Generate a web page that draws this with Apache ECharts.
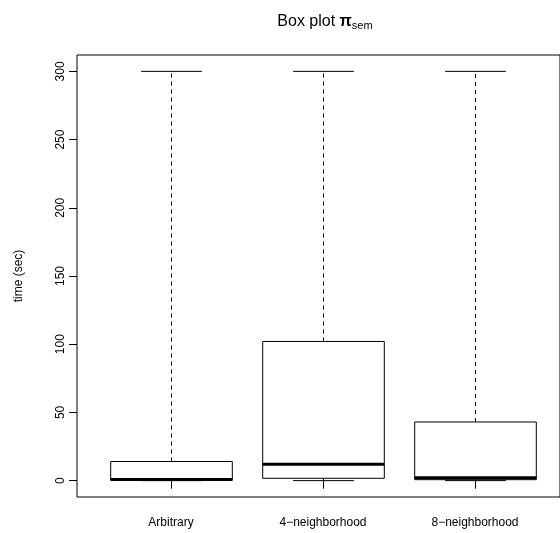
<!DOCTYPE html>
<html>
<head>
<meta charset="utf-8">
<script src="https://cdn.jsdelivr.net/npm/echarts@6/dist/echarts.min.js"></script>
<style>
  html, body { margin: 0; padding: 0; background: #fff; }
  #chart { width: 560px; height: 533px; }
</style>
</head>
<body>
<div id="chart"></div>
<script>
// boxplot stats per group
const categories = ['Arbitrary', '4\u2212neighborhood', '8\u2212neighborhood'];
const whiskerLow = [0, 0, 0];
const q1 = [0.3, 1.7, 0.7];
const median = [0.8, 12, 2.2];
const q3 = [14, 102, 43];
const whiskerHigh = [300, 300, 300];
const yTicks = [0, 50, 100, 150, 200, 250, 300];

const FONT = 'Liberation Sans, Arial, sans-serif';
const yMin = -12;
const yMax = 312;

const chart = echarts.init(document.getElementById('chart'), null, { renderer: 'canvas' });

const seriesData = categories.map((c, i) => [i, whiskerLow[i], q1[i], median[i], q3[i], whiskerHigh[i]]);

// R-style box: dashed whiskers, half-width staples, thick median
function renderBox(params, api) {
  const x = api.value(0);
  const bandW = api.size([1, 0])[0];
  const boxW = bandW * 0.8;
  const capW = boxW * 0.5;
  const pLow = api.coord([x, api.value(1)]);
  const pQ1 = api.coord([x, api.value(2)]);
  const pMed = api.coord([x, api.value(3)]);
  const pQ3 = api.coord([x, api.value(4)]);
  const pHigh = api.coord([x, api.value(5)]);
  const cx = Math.round(pMed[0]) + 0.5;
  const line = { stroke: '#000', lineWidth: 1 };
  const dashed = { stroke: '#000', lineWidth: 1, lineDash: [4, 4] };
  return {
    type: 'group',
    children: [
      { type: 'line', shape: { x1: cx, y1: pQ3[1], x2: cx, y2: pHigh[1] }, style: dashed },
      { type: 'line', shape: { x1: cx, y1: pLow[1], x2: cx, y2: pQ1[1] }, style: dashed },
      { type: 'line', shape: { x1: cx - capW / 2, y1: pHigh[1], x2: cx + capW / 2, y2: pHigh[1] }, style: line },
      { type: 'line', shape: { x1: cx - capW / 2, y1: pLow[1], x2: cx + capW / 2, y2: pLow[1] }, style: line },
      {
        type: 'rect',
        shape: { x: cx - boxW / 2, y: pQ3[1], width: boxW, height: pQ1[1] - pQ3[1] },
        style: { stroke: '#000', lineWidth: 1, fill: 'rgba(0,0,0,0)' }
      },
      {
        type: 'line',
        shape: { x1: cx - boxW / 2, y1: pMed[1], x2: cx + boxW / 2, y2: pMed[1] },
        style: { stroke: '#000', lineWidth: 3 }
      }
    ]
  };
}

const option = {
  backgroundColor: '#fff',
  animation: false,
  title: {
    text: 'Box plot {pi|\u03c0}{sub|sem}',
    left: 320,
    textAlign: 'center',
    top: 7,
    textStyle: {
      fontFamily: FONT,
      fontSize: 16,
      fontWeight: 'normal',
      color: '#000',
      rich: {
        pi: { fontFamily: FONT, fontSize: 16, fontWeight: 'bold', color: '#000' },
        sub: { fontFamily: FONT, fontSize: 11, color: '#000', padding: [8, 0, 0, 0] }
      }
    }
  },
  grid: [
    // plot frame (R box), runs off the right edge like the original
    { left: 77, top: 55, width: 493, bottom: 36, show: true, borderColor: '#000', borderWidth: 1, backgroundColor: 'transparent' },
    // group area 0.5..3.5
    { left: 95, top: 55, width: 456, bottom: 36 }
  ],
  xAxis: [
    { type: 'value', gridIndex: 0, min: 0, max: 1, show: false },
    {
      type: 'category',
      gridIndex: 1,
      data: categories,
      boundaryGap: true,
      axisLine: { show: false },
      axisTick: { show: true, alignWithLabel: true, length: 8, lineStyle: { color: '#000' } },
      axisLabel: { color: '#000', fontFamily: FONT, fontSize: 12, margin: 20 },
      splitLine: { show: false }
    }
  ],
  yAxis: [
    {
      type: 'value',
      gridIndex: 0,
      min: yMin,
      max: yMax,
      name: 'time (sec)',
      nameLocation: 'middle',
      nameRotate: 90,
      nameGap: 52,
      nameTextStyle: { color: '#000', fontFamily: FONT, fontSize: 12 },
      axisLine: { show: false },
      axisTick: { show: true, length: 8, customValues: yTicks, lineStyle: { color: '#000' } },
      axisLabel: { color: '#000', fontFamily: FONT, fontSize: 12, rotate: 90, margin: 10, customValues: yTicks },
      splitLine: { show: false }
    },
    { type: 'value', gridIndex: 1, min: yMin, max: yMax, show: false }
  ],
  series: [
    {
      type: 'custom',
      xAxisIndex: 1,
      yAxisIndex: 1,
      data: seriesData,
      renderItem: renderBox,
      encode: { x: 0, y: [1, 2, 3, 4, 5] },
      silent: true
    }
  ]
};

chart.setOption(option);
window.addEventListener('resize', () => chart.resize());
</script>
</body>
</html>
